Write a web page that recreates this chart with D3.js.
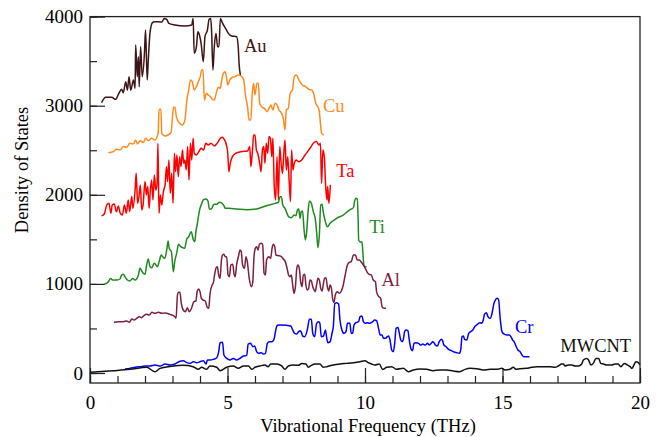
<!DOCTYPE html>
<html>
<head>
<meta charset="utf-8">
<script src="https://cdn.jsdelivr.net/npm/d3@7"></script>
<style>
  body { margin: 0; background: #fff; }
  svg { display: block; font-family: "Liberation Serif", "Times New Roman", serif; }
</style>
</head>
<body>
<div id="chart"></div>
<script>
// frequency (THz), density of states
const auData = [[0.42,3034],[0.57,3094],[0.79,3094],[0.93,3071],[1.05,3139],[1.15,3184],[1.21,3146],[1.30,3270],[1.36,3176],[1.42,3326],[1.48,3176],[1.58,3288],[1.64,3195],[1.66,3681],[1.72,3326],[1.76,3550],[1.79,3214],[1.84,3662],[1.90,3326],[1.98,3588],[2.02,3850],[2.08,3288],[2.12,3513],[2.18,3812],[2.27,3932],[2.36,3943],[2.61,3939],[2.70,3980],[2.79,3969],[2.87,3924],[3.09,3906],[3.45,3894],[3.70,3906],[3.75,3980],[3.79,3588],[3.87,3662],[3.92,3831],[3.96,3812],[4.04,3700],[4.12,3494],[4.18,3775],[4.27,3850],[4.33,3969],[4.39,3980],[4.42,3850],[4.47,3401],[4.52,3662],[4.58,3812],[4.64,3662],[4.69,3662],[4.74,3980],[4.81,3932],[4.93,3868],[5.03,3812],[5.15,3782],[5.33,3775],[5.39,3662],[5.42,3475],[5.47,3344]];

const cuData = [[0.67,2473],[0.85,2485],[0.97,2511],[1.09,2503],[1.21,2541],[1.33,2533],[1.45,2578],[1.58,2571],[1.66,2616],[1.73,2571],[1.82,2608],[1.94,2586],[2.02,2634],[2.12,2608],[2.24,2634],[2.36,2616],[2.44,2653],[2.48,2700],[2.51,2959],[2.58,2959],[2.61,2690],[2.73,2660],[2.95,2700],[2.99,2839],[3.04,2982],[3.09,2982],[3.14,2877],[3.24,2810],[3.36,2783],[3.45,2839],[3.53,3083],[3.58,3157],[3.65,3288],[3.72,3270],[3.79,3176],[3.87,3214],[3.94,3270],[4.01,3326],[4.06,3401],[4.11,3401],[4.16,3064],[4.23,3139],[4.30,3120],[4.38,3101],[4.45,3071],[4.52,3064],[4.62,3176],[4.67,3206],[4.74,3195],[4.79,3288],[4.85,3363],[4.91,3382],[4.96,3326],[5.01,3232],[5.08,3288],[5.18,3318],[5.27,3326],[5.39,3344],[5.52,3326],[5.59,3288],[5.66,3101],[5.73,2989],[5.78,2839],[5.85,2839],[5.90,3139],[5.95,3251],[6.00,3120],[6.07,3251],[6.12,3251],[6.17,3027],[6.24,2989],[6.34,2970],[6.44,2933],[6.51,2970],[6.58,3008],[6.65,2952],[6.73,3027],[6.80,3008],[6.87,2952],[6.97,2914],[7.04,2839],[7.09,2727],[7.14,2952],[7.21,2970],[7.28,3139],[7.36,3176],[7.43,3326],[7.50,3344],[7.60,3288],[7.72,3232],[7.84,3214],[7.96,3184],[8.06,3176],[8.13,3139],[8.21,3027],[8.28,2989],[8.33,2952],[8.38,2802],[8.42,2690],[8.50,2672]];

const taData = [[0.42,1763],[0.52,1785],[0.61,1886],[0.69,1905],[0.76,1793],[0.81,1886],[0.88,1897],[0.96,1811],[1.03,1875],[1.10,1793],[1.18,1774],[1.25,1886],[1.32,1793],[1.39,1942],[1.44,1811],[1.52,1980],[1.56,1849],[1.64,2054],[1.68,2241],[1.73,1905],[1.78,1980],[1.83,2111],[1.88,1830],[1.93,1886],[2.00,2148],[2.05,1998],[2.10,2092],[2.15,1849],[2.19,2036],[2.24,2167],[2.29,1942],[2.34,2223],[2.39,2054],[2.44,2129],[2.47,2578],[2.51,1793],[2.56,1998],[2.61,1886],[2.67,2036],[2.73,2111],[2.78,2316],[2.82,2148],[2.87,2391],[2.92,2017],[2.97,2241],[3.02,1905],[3.07,2466],[3.11,2260],[3.16,2447],[3.21,2204],[3.26,2428],[3.31,2316],[3.36,2503],[3.41,2354],[3.45,2391],[3.50,2279],[3.55,2541],[3.60,2167],[3.65,2578],[3.70,2391],[3.75,2634],[3.79,2466],[3.87,2447],[3.96,2485],[4.04,2522],[4.13,2503],[4.21,2578],[4.30,2559],[4.40,2578],[4.52,2548],[4.64,2586],[4.74,2634],[4.81,2645],[4.88,2623],[4.96,2559],[5.01,2466],[5.05,2260],[5.10,2354],[5.18,2428],[5.30,2466],[5.52,2485],[5.73,2492],[5.81,2541],[5.85,2316],[5.90,2466],[5.95,2672],[6.00,2672],[6.05,2503],[6.10,2466],[6.17,2354],[6.22,2260],[6.27,2503],[6.32,2541],[6.36,2354],[6.41,2578],[6.46,2466],[6.51,2653],[6.56,2634],[6.61,2428],[6.65,2634],[6.70,2092],[6.75,1942],[6.80,2428],[6.85,1942],[6.90,2541],[6.95,2354],[7.00,2241],[7.04,2428],[7.09,2616],[7.14,2279],[7.19,2428],[7.24,2167],[7.29,1923],[7.33,2503],[7.38,2279],[7.43,2354],[7.50,2391],[7.58,2372],[7.70,2391],[7.82,2447],[8.00,2522],[8.12,2578],[8.23,2597],[8.33,2559],[8.38,2578],[8.42,2129],[8.47,2503],[8.52,2428],[8.57,2092],[8.62,1942],[8.64,2092],[8.69,1905],[8.74,2111]];

const tiData = [[0.51,995],[0.67,1025],[0.75,1062],[0.82,1044],[0.91,1044],[0.99,1044],[1.09,1055],[1.15,1100],[1.21,1107],[1.27,1081],[1.36,1044],[1.45,1033],[1.55,1062],[1.64,1044],[1.76,1100],[1.82,1175],[1.88,1145],[1.94,1119],[2.00,1107],[2.06,1212],[2.12,1280],[2.18,1193],[2.25,1182],[2.33,1231],[2.38,1220],[2.45,1193],[2.52,1257],[2.59,1324],[2.64,1306],[2.72,1287],[2.79,1380],[2.84,1481],[2.88,1399],[2.96,1362],[3.03,1137],[3.08,1250],[3.15,1343],[3.22,1444],[3.30,1418],[3.37,1407],[3.44,1399],[3.52,1504],[3.59,1530],[3.64,1568],[3.68,1586],[3.76,1493],[3.81,1474],[3.85,1586],[3.90,1669],[3.95,1773],[4.00,1848],[4.05,1893],[4.12,1942],[4.22,1953],[4.29,1930],[4.34,1841],[4.41,1841],[4.51,1893],[4.61,1893],[4.70,1915],[4.80,1904],[4.87,1878],[4.92,1848],[5.04,1848],[5.33,1841],[5.70,1833],[6.06,1841],[6.42,1878],[6.73,1904],[6.85,1915],[6.91,1979],[6.96,1979],[7.01,1886],[7.09,1848],[7.15,1803],[7.22,1755],[7.32,1743],[7.42,1773],[7.49,1766],[7.54,1829],[7.59,1841],[7.64,1736],[7.68,1811],[7.73,1818],[7.78,1624],[7.83,1493],[7.88,1586],[7.93,1811],[7.98,1930],[8.05,1904],[8.12,1811],[8.19,1736],[8.24,1586],[8.29,1407],[8.34,1549],[8.39,1886],[8.44,1893],[8.48,1811],[8.56,1698],[8.63,1642],[8.73,1680],[8.97,1736],[9.21,1773],[9.43,1829],[9.58,1856],[9.62,1923],[9.67,1960],[9.72,1953],[9.75,1736],[9.77,1493],[9.84,1467],[9.89,1474],[9.92,1362],[9.96,1212],[10.01,1193],[10.06,1193]];

const alData = [[0.87,569],[1.03,576],[1.21,576],[1.33,584],[1.43,569],[1.52,606],[1.60,595],[1.70,614],[1.79,632],[1.88,621],[1.96,644],[2.06,658],[2.16,651],[2.25,681],[2.36,670],[2.48,681],[2.61,670],[2.73,674],[2.91,658],[3.09,632],[3.13,614],[3.18,875],[3.22,905],[3.27,905],[3.32,782],[3.39,707],[3.47,688],[3.54,733],[3.61,688],[3.68,718],[3.78,801],[3.85,808],[3.90,920],[3.95,943],[4.00,913],[4.05,838],[4.12,819],[4.19,808],[4.27,733],[4.32,726],[4.36,875],[4.44,988],[4.48,1006],[4.53,1100],[4.58,1175],[4.63,1193],[4.68,1100],[4.73,1063],[4.78,1268],[4.82,1324],[4.87,1332],[4.92,1306],[4.97,1306],[5.02,1100],[5.07,1081],[5.12,1212],[5.19,1220],[5.24,1107],[5.28,1081],[5.33,1212],[5.41,1324],[5.45,1380],[5.50,1362],[5.55,1212],[5.62,1175],[5.67,1306],[5.72,1250],[5.79,1063],[5.87,969],[5.92,1025],[5.96,1287],[6.01,1399],[6.06,1418],[6.11,1380],[6.16,1444],[6.23,1455],[6.28,1437],[6.33,1119],[6.38,1100],[6.42,1268],[6.50,1306],[6.57,1287],[6.62,1399],[6.67,1444],[6.72,1418],[6.76,1324],[6.86,1317],[6.96,1306],[7.03,1280],[7.10,1250],[7.18,1156],[7.22,1100],[7.27,1081],[7.32,1100],[7.37,988],[7.42,894],[7.47,969],[7.52,1175],[7.56,1212],[7.61,1175],[7.66,1025],[7.71,969],[7.76,1100],[7.81,1107],[7.85,988],[7.90,932],[7.95,950],[8.00,1044],[8.05,1033],[8.10,969],[8.15,932],[8.19,913],[8.24,988],[8.29,1063],[8.34,1044],[8.39,950],[8.44,920],[8.48,988],[8.53,1063],[8.58,1070],[8.63,969],[8.68,920],[8.73,988],[8.78,950],[8.82,838],[8.87,793],[8.92,875],[8.99,913],[9.07,894],[9.14,920],[9.21,988],[9.28,1100],[9.36,1212],[9.43,1242],[9.50,1250],[9.58,1324],[9.65,1324],[9.72,1268],[9.79,1268],[9.87,1242],[9.94,1212],[10.01,1175],[10.08,1130],[10.16,1107],[10.23,1100],[10.30,1044],[10.38,1025],[10.42,913],[10.50,857],[10.57,838],[10.62,745],[10.69,726],[10.76,726]];

const crData = [[1.27,45],[1.45,52],[1.64,64],[1.82,71],[2.00,78],[2.18,78],[2.36,90],[2.55,78],[2.73,101],[2.91,90],[3.09,101],[3.27,131],[3.39,138],[3.52,116],[3.64,108],[3.76,127],[3.88,116],[4.00,127],[4.12,138],[4.22,101],[4.27,146],[4.36,146],[4.48,153],[4.61,172],[4.68,239],[4.73,340],[4.82,344],[4.87,202],[4.97,164],[5.09,146],[5.21,164],[5.33,146],[5.45,164],[5.58,191],[5.70,198],[5.75,325],[5.84,333],[5.92,295],[5.99,303],[6.06,239],[6.13,221],[6.23,228],[6.30,213],[6.38,221],[6.45,333],[6.52,352],[6.61,352],[6.69,378],[6.76,490],[6.81,535],[6.91,539],[7.15,535],[7.30,527],[7.37,483],[7.44,445],[7.52,438],[7.59,464],[7.64,475],[7.69,453],[7.73,415],[7.81,408],[7.90,483],[7.98,602],[8.05,602],[8.10,445],[8.17,408],[8.24,557],[8.32,576],[8.36,557],[8.41,408],[8.49,415],[8.56,483],[8.61,389],[8.65,340],[8.73,352],[8.80,445],[8.85,527],[8.90,782],[8.97,789],[9.04,774],[9.09,595],[9.16,483],[9.24,445],[9.31,464],[9.36,557],[9.45,557],[9.50,445],[9.55,445],[9.60,539],[9.67,565],[9.77,576],[9.82,632],[9.89,640],[9.94,576],[10.01,557],[10.08,565],[10.16,557],[10.28,576],[10.35,595],[10.42,587],[10.50,490],[10.55,427],[10.62,427],[10.67,389],[10.74,389],[10.81,408],[10.86,415],[10.91,370],[10.97,258],[11.03,239],[11.08,333],[11.13,501],[11.20,512],[11.25,445],[11.30,370],[11.35,352],[11.39,370],[11.44,464],[11.49,483],[11.56,475],[11.61,370],[11.68,266],[11.73,251],[11.78,333],[11.85,340],[11.95,333],[12.02,314],[12.10,325],[12.19,314],[12.27,333],[12.34,314],[12.41,333],[12.46,352],[12.51,340],[12.56,314],[12.63,303],[12.70,352],[12.78,378],[12.82,363],[12.87,314],[12.95,295],[13.04,266],[13.14,251],[13.24,236],[13.33,228],[13.43,221],[13.48,258],[13.53,408],[13.58,415],[13.62,378],[13.70,370],[13.77,445],[13.84,464],[13.92,483],[13.99,520],[14.06,539],[14.13,557],[14.18,565],[14.25,557],[14.30,595],[14.35,662],[14.42,677],[14.47,632],[14.55,613],[14.62,670],[14.69,782],[14.74,819],[14.81,838],[14.86,819],[14.91,632],[14.98,464],[15.05,438],[15.15,427],[15.25,427],[15.32,400],[15.37,370],[15.42,352],[15.49,303],[15.56,258],[15.64,239],[15.71,202],[15.78,183],[15.88,183],[15.98,183]];

const mwcntData = [[0.0,8],[0.84,26],[1.45,41],[2.06,64],[2.36,15],[2.55,52],[3.03,79],[3.39,86],[3.75,71],[3.94,41],[4.06,64],[4.24,41],[4.36,79],[4.61,64],[4.73,26],[4.97,64],[5.21,79],[5.39,52],[5.58,79],[5.76,79],[5.88,41],[6.00,64],[6.18,79],[6.36,90],[6.48,71],[6.57,101],[6.79,101],[6.97,79],[7.09,41],[7.21,79],[7.39,90],[7.58,86],[7.70,108],[7.85,101],[7.94,64],[8.02,79],[8.18,101],[8.36,101],[8.48,64],[8.61,71],[8.85,90],[9.09,101],[9.33,108],[9.58,116],[9.82,127],[10.00,138],[10.12,116],[10.24,101],[10.36,90],[10.52,101],[10.64,41],[10.79,64],[10.97,71],[11.15,41],[11.39,52],[11.58,15],[11.76,34],[12.00,45],[12.24,41],[12.48,26],[12.73,34],[12.97,34],[13.21,22],[13.45,15],[13.64,41],[13.82,52],[14.06,49],[14.30,34],[14.55,41],[14.79,41],[14.97,52],[15.09,34],[15.27,41],[15.39,64],[15.49,41],[15.64,49],[15.88,52],[16.06,64],[16.24,71],[16.48,71],[16.73,71],[16.91,64],[17.03,79],[17.15,101],[17.21,101],[17.27,79],[17.39,90],[17.52,90],[17.64,79],[17.76,79],[17.88,101],[17.94,146],[18.06,164],[18.13,146],[18.21,90],[18.30,108],[18.40,164],[18.50,164],[18.57,108],[18.67,101],[18.79,90],[18.97,90],[19.09,101],[19.21,101],[19.30,71],[19.37,90],[19.44,108],[19.54,90],[19.64,71],[19.71,52],[19.78,90],[19.85,127],[19.94,116],[20.0,90]];

const seriesNames = ["Au", "Cu", "Ta", "Ti", "Al", "Cr", "MWCNT"];
const seriesData = [auData, cuData, taData, tiData, alData, crData, mwcntData];
const seriesColors = ["#3e1414", "#ff8c1f", "#ff0000", "#1f8a1f", "#7d1f3f", "#0000ff", "#111111"];
// label anchor (frequency, DOS) for each series name
const labelPos = [[5.6, 3600], [8.47, 2930], [8.95, 2200], [10.15, 1570], [10.6, 980], [15.45, 450], [17.1, 235]];

const xMajor = [0, 5, 10, 15, 20];
const xMinor = d3.range(0, 21, 1);
const yMajor = [0, 1000, 2000, 3000, 4000];
const yMinor = d3.range(0, 4001, 500);

const width = 663, height = 437;
const plotLeft = 90, plotRight = 640, plotTop = 16.6, plotBottom = 383;

const svg = d3.select("#chart").append("svg")
    .attr("width", width)
    .attr("height", height);

const x = d3.scaleLinear().domain([0, 20]).range([plotLeft, plotRight]);
const y = d3.scaleLinear().domain([0, 4000]).range([373, plotTop]);

//ticks, pointing into the plot
svg.append("g")
    .attr("transform", `translate(0,${plotBottom})`)
    .call(d3.axisBottom(x).tickValues(xMinor).tickSize(-7).tickFormat(""))
    .call((g) => g.select(".domain").remove());

svg.append("g")
    .attr("transform", `translate(0,${plotBottom})`)
    .call(d3.axisBottom(x).tickValues(xMajor).tickSize(-15).tickPadding(13).tickFormat(d3.format("d")))
    .call((g) => g.select(".domain").remove())
    .call((g) => g.selectAll("text").attr("font-size", 19).attr("font-family", "Liberation Serif").attr("fill", "#000"));

svg.append("g")
    .attr("transform", `translate(${plotLeft},0)`)
    .call(d3.axisLeft(y).tickValues(yMinor).tickSize(-7).tickFormat(""))
    .call((g) => g.select(".domain").remove());

svg.append("g")
    .attr("transform", `translate(${plotLeft},0)`)
    .call(d3.axisLeft(y).tickValues(yMajor).tickSize(-15).tickPadding(7).tickFormat(d3.format("d")))
    .call((g) => g.select(".domain").remove())
    .call((g) => g.selectAll("text").attr("font-size", 19).attr("font-family", "Liberation Serif").attr("fill", "#000"));

svg.selectAll(".tick line").attr("stroke", "#222").attr("stroke-width", 1.2);

const line = d3.line()
    .x((d) => x(d[0]))
    .y((d) => y(d[1]))
    .curve(d3.curveMonotoneX);

svg.append("g")
    .selectAll("path")
    .data(seriesData)
    .join("path")
    .attr("d", line)
    .attr("fill", "none")
    .attr("stroke", (d, i) => seriesColors[i])
    .attr("stroke-width", 1.5)
    .attr("stroke-linejoin", "round");

svg.append("g")
    .selectAll("text")
    .data(seriesNames)
    .join("text")
    .attr("x", (d, i) => x(labelPos[i][0]))
    .attr("y", (d, i) => y(labelPos[i][1]))
    .attr("fill", (d, i) => seriesColors[i])
    .attr("font-size", 18.5)
    .text((d) => d);

// frame
svg.append("rect")
    .attr("x", plotLeft)
    .attr("y", plotTop)
    .attr("width", plotRight - plotLeft)
    .attr("height", plotBottom - plotTop)
    .attr("fill", "none")
    .attr("stroke", "#222")
    .attr("stroke-width", 1.3);

svg.append("text")
    .attr("transform", `translate(28,170) rotate(-90)`)
    .attr("text-anchor", "middle")
    .attr("font-size", 18.5)
    .text("Density of States");

svg.append("text")
    .attr("x", 368)
    .attr("y", 432)
    .attr("text-anchor", "middle")
    .attr("font-size", 18.5)
    .text("Vibrational Frequency (THz)");
</script>
</body>
</html>
